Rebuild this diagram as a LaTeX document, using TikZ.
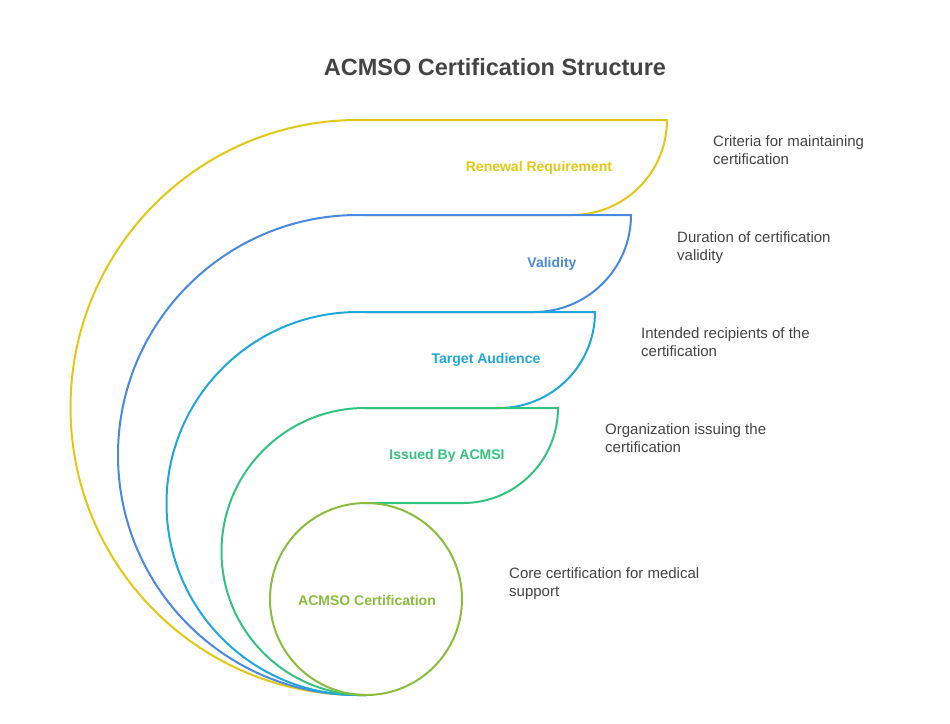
\documentclass[tikz,border=0pt]{standalone}
\usepackage{fontspec}
\setmainfont{Liberation Sans}
\definecolor{cYel}{HTML}{E2C714}
\definecolor{cBlu}{HTML}{4A88E1}
\definecolor{cCya}{HTML}{1FA7DA}
\definecolor{cGrn}{HTML}{33C27F}
\definecolor{cLim}{HTML}{8ABD3E}
\definecolor{cTxt}{HTML}{444444}
\begin{document}
\begin{tikzpicture}[x=1pt,y=-1pt,
  outline/.style={line width=2pt},
  lab/.style={font=\fontsize{14}{17}\selectfont\bfseries, anchor=center},
  desc/.style={font=\fontsize{15}{18}\selectfont, text=cTxt, anchor=base west, align=left, inner sep=0pt}]
\useasboundingbox (0,0) rectangle (950,723);
% Renewal (top 120, right 667)
\draw[outline, cYel] (358,120) -- (667,120) arc[start angle=0, end angle=90, radius=95] -- (365,215);
\draw[outline, cYel] (358,120) arc[start angle=-90, end angle=-270, radius=287.5] -- (366,695);
% Validity
\draw[outline, cBlu] (358,215) -- (631,215) arc[start angle=0, end angle=90, radius=97] -- (365,312);
\draw[outline, cBlu] (358,215) arc[start angle=-90, end angle=-270, radius=240] -- (366,695);
% Target audience
\draw[outline, cCya] (358,312) -- (595,312) arc[start angle=0, end angle=90, radius=96] -- (365,408);
\draw[outline, cCya] (358,312) arc[start angle=-90, end angle=-270, radius=191.5] -- (366,695);
% Issued by
\draw[outline, cGrn] (365,408) -- (558,408) arc[start angle=0, end angle=90, radius=95] -- (365,503);
\draw[outline, cGrn] (365,408) arc[start angle=-90, end angle=-270, radius=143.5];
% Core circle
\draw[outline, cLim] (366,599) circle[radius=96];

\node[font=\fontsize{23.5}{28}\selectfont\bfseries, text=cTxt] (title) at (495,67) {ACMSO Certification Structure};

\node[lab, text=cYel] (renewal) at (539,168) {Renewal Requirement};
\node[lab, text=cBlu] (validity) at (552,264) {Validity};
\node[lab, text=cCya] (audience) at (486,360) {Target Audience};
\node[lab, text=cGrn] (issued) at (447,456) {Issued By ACMSI};
\node[lab, text=cLim] (core) at (367,600) {ACMSO Certification};

\node[desc] (d1) at (713,164) {Criteria for maintaining\\certification};
\node[desc] (d2) at (677,260) {Duration of certification\\validity};
\node[desc] (d3) at (641,356) {Intended recipients of the\\certification};
\node[desc] (d4) at (605,452) {Organization issuing the\\certification};
\node[desc] (d5) at (509,596) {Core certification for medical\\support};
\end{tikzpicture}
\end{document}
